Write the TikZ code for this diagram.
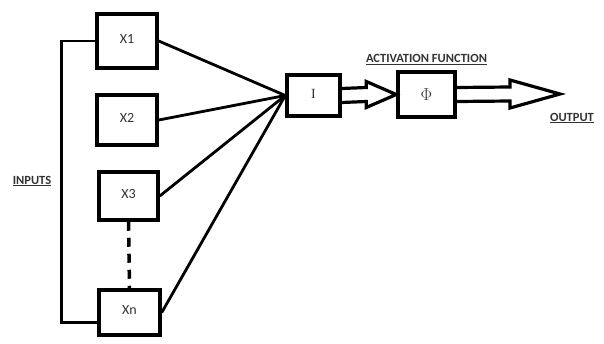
\documentclass[tikz,border=0pt]{standalone}
\usepackage{fontspec}
\setmainfont{Carlito}
\newfontfamily\serifI{Liberation Serif}
\usetikzlibrary{calc}
\usetikzlibrary{positioning}

\newcommand{\boxtext}[1]{\raisebox{4pt}{#1}}

\begin{document}
\begin{tikzpicture}[
    x=1pt, y=-1pt,
    box/.style={draw, line width=3.5pt, inner sep=0, font=\fontsize{14}{16}\selectfont, text=black!80},
    wire/.style={line width=2.8pt},
    harrow/.style={line width=3.2pt, line join=miter},
    label/.style={font=\bfseries\fontsize{12.5}{14}\selectfont, text=black!80, inner sep=1pt}
  ]
  \useasboundingbox (0,0) rectangle (604,343);
  % inputs
  \node[box, minimum width=60, minimum height=54] (x1) at (127,41) {\boxtext{X1}};
  \node[box, minimum width=60, minimum height=50] (x2) at (127,120) {\boxtext{X2}};
  \node[box, minimum width=59, minimum height=48] (x3) at (128.5,196) {\boxtext{X3}};
  \node[box, minimum width=61, minimum height=45] (xn) at (129.5,312.5) {\boxtext{Xn}};
  \node[label] (inputs) at (32,181) {\underline{INPUTS}};

  % summation and activation
  \node[box, minimum width=53, minimum height=41] (sum) at (313.5,95.5) {\boxtext{\serifI I}};
  \node[box, minimum width=57, minimum height=45, font=\fontsize{16}{18}\selectfont] (act) at (426.5,94.5) {$\Phi$};
  \node[label, above=4pt of act] (actlabel) {\underline{ACTIVATION FUNCTION}};
  \coordinate (tip) at (560,94);
  \node[label] (output) at (572,118) {\underline{OUTPUT}};

  \draw[wire] (x1.west) -- ++(-34,0) |- ([yshift=-10pt]xn.west);
  \draw[wire, dash pattern=on 9pt off 7pt, line width=3.5pt] (x3.south) -- (xn.north);
  \foreach \i in {x1,x2,x3,xn}
    \draw[wire] (\i.east) -- (sum.west);

  \draw[harrow] ($(sum.east)+(0,-7)$) -- ($(act.west)+(-30,-7)$) -- ($(act.west)+(-30,-13)$)
    -- (act.west) -- ($(act.west)+(-30,13)$) -- ($(act.west)+(-30,7)$) -- ($(sum.east)+(0,7)$);
  \draw[harrow] ($(act.east)+(0,-7)$) -- ($(tip)+(-50,-7)$) -- ($(tip)+(-50,-14)$)
    -- (tip) -- ($(tip)+(-50,14)$) -- ($(tip)+(-50,7)$) -- ($(act.east)+(0,7)$);
\end{tikzpicture}
\end{document}
